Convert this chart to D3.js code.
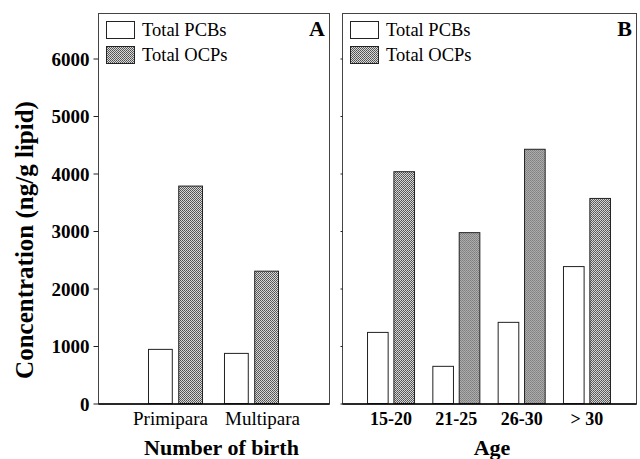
<!DOCTYPE html>
<html>
<head>
<meta charset="utf-8">
<script src="https://cdnjs.cloudflare.com/ajax/libs/d3/7.8.5/d3.min.js"></script>
<style>
body { margin:0; background:#fff; }
svg { display:block; font-family:"Liberation Serif","Times New Roman",serif; }
</style>
</head>
<body>
<svg width="640" height="459"></svg>
<script>
// ---------- data ----------
var seriesNames = ["Total PCBs", "Total OCPs"]
var birthCats = ["Primipara", "Multipara"]
var birthPCB = [950, 880]
var birthOCP = [3790, 2310]
var ageCats = ["15-20", "21-25", "26-30", "> 30"]
var agePCB = [1245, 655, 1420, 2390]
var ageOCP = [4040, 2980, 4430, 3575]
var yTicks = [0, 1000, 2000, 3000, 4000, 5000, 6000]

var svg = d3.select("svg")

// crosshatch pattern for OCP bars
var defs = svg.append("defs")
var pat = defs.append("pattern")
	.attr("id", "hatch")
	.attr("width", 2).attr("height", 2)
	.attr("patternUnits", "userSpaceOnUse")
pat.append("rect").attr("width", 2).attr("height", 2).attr("fill", "#d8d8d8")
pat.append("rect").attr("width", 1).attr("height", 1).attr("fill", "#505050")
pat.append("rect").attr("x", 1).attr("y", 1).attr("width", 1).attr("height", 1).attr("fill", "#606060")

var graph = {top: 13, bottom: 403.5}
var yScale = d3.scaleLinear()
	.domain([0, 6000])
	.range([graph.bottom, 58.5])

//----------draw one panel-------------
var drawPanel = function (p)
{
	var target = svg.append("g")

	var xScale = d3.scaleBand()
		.domain(p.cats)
		.range([p.left, p.right])
		.paddingInner(p.pi)
		.paddingOuter(p.po)

	var inner = d3.scaleBand()
		.domain(seriesNames)
		.range([0, xScale.bandwidth()])
		.paddingInner(0.18)

	var rows = p.cats.map(function (c, i) {
		return {cat: c, vals: [p.pcb[i], p.ocp[i]]}
	})

	var groups = target.selectAll("g.grp")
		.data(rows)
		.enter()
		.append("g")
		.attr("class", "grp")
		.attr("transform", function (d) { return "translate(" + xScale(d.cat) + ",0)" })

	groups.selectAll("rect")
		.data(function (d) {
			return d.vals.map(function (v, k) { return {s: seriesNames[k], v: v} })
		})
		.enter()
		.append("rect")
		.attr("x", function (d) { return inner(d.s) + 0.5 })
		.attr("y", function (d) { return yScale(d.v) + 0.5 })
		.attr("width", inner.bandwidth() - 1)
		.attr("height", function (d) { return yScale(0) - yScale(d.v) - 0.5 })
		.attr("fill", function (d) { return d.s == "Total PCBs" ? "#fff" : "url(#hatch)" })
		.attr("stroke", "#222")
		.attr("stroke-width", 1)

	// frame
	target.append("rect")
		.attr("x", p.left + 0.5)
		.attr("y", graph.top + 0.5)
		.attr("width", p.right - p.left)
		.attr("height", graph.bottom - graph.top)
		.attr("fill", "none")
		.attr("stroke", "#444")
		.attr("stroke-width", 1)

	// x axis labels
	var xAxis = d3.axisBottom(xScale).tickSize(0).tickPadding(0)
	var xg = target.append("g")
		.attr("transform", "translate(0," + graph.bottom + ")")
		.call(xAxis)
	xg.select(".domain").attr("stroke", "#000").attr("stroke-width", 1.5)
	xg.selectAll("text")
		.attr("y", 21)
		.attr("dy", 0)
		.attr("dx", function (d, i) { return p.labelShift[i] })
		.attr("fill", "#000")
		.style("font-family", "'Liberation Serif',serif")
		.style("font-size", p.catBold ? "18px" : "19px")
		.style("font-weight", p.catBold ? "bold" : "normal")

	// y ticks
	var yAxis = d3.axisLeft(yScale).tickValues(yTicks).tickSize(p.showLabels ? 5 : 2).tickPadding(4)
		.tickFormat(p.showLabels ? d3.format("d") : "")
	var yg = target.append("g")
		.attr("transform", "translate(" + (p.left + 0.5) + ",0)")
		.call(yAxis)
	yg.select(".domain").remove()
	yg.selectAll("line").attr("stroke", "#222")
	yg.selectAll("text")
		.attr("fill", "#000")
		.attr("dy", "0.35em")
		.style("font-family", "'Liberation Serif',serif")
		.style("font-size", "19px")
		.style("font-weight", "bold")

	// axis title
	target.append("text")
		.attr("x", (p.left + p.right) / 2 + p.titleShift)
		.attr("y", 455)
		.attr("text-anchor", "middle")
		.style("font-size", "22px")
		.style("font-weight", "bold")
		.text(p.title)

	// panel letter
	target.append("text")
		.attr("x", p.right - 4)
		.attr("y", 36)
		.attr("text-anchor", "end")
		.style("font-size", "22px")
		.style("font-weight", "bold")
		.text(p.letter)

	// legend
	var leg = target.selectAll("g.leg")
		.data(seriesNames)
		.enter()
		.append("g")
		.attr("class", "leg")
		.attr("transform", function (d, i) { return "translate(" + (p.left + 8) + "," + (21 + i * 25) + ")" })
	leg.append("rect")
		.attr("x", 0.5).attr("y", 0.5)
		.attr("width", 28).attr("height", 17)
		.attr("fill", function (d) { return d == "Total PCBs" ? "#fff" : "url(#hatch)" })
		.attr("stroke", "#222")
	leg.append("text")
		.attr("x", 36)
		.attr("y", 14.5)
		.style("font-size", "18.5px")
		.text(function (d) { return d })
}

drawPanel({cats: birthCats, pcb: birthPCB, ocp: birthOCP, left: 98, right: 329,
	pi: 0.276, po: 0.658, title: "Number of birth", letter: "A", showLabels: true, catBold: false,
	labelShift: [-5, 11], titleShift: 8})
drawPanel({cats: ageCats, pcb: agePCB, ocp: ageOCP, left: 342, right: 636,
	pi: 0.265, po: 0.383, title: "Age", letter: "B", showLabels: false, catBold: true,
	labelShift: [0, 0, 0, 0], titleShift: 3})

// y axis title
svg.append("text")
	.attr("transform", "translate(33,240) rotate(-90)")
	.attr("text-anchor", "middle")
	.style("font-size", "25px")
	.style("font-weight", "bold")
	.text("Concentration (ng/g lipid)")
</script>
</body>
</html>
